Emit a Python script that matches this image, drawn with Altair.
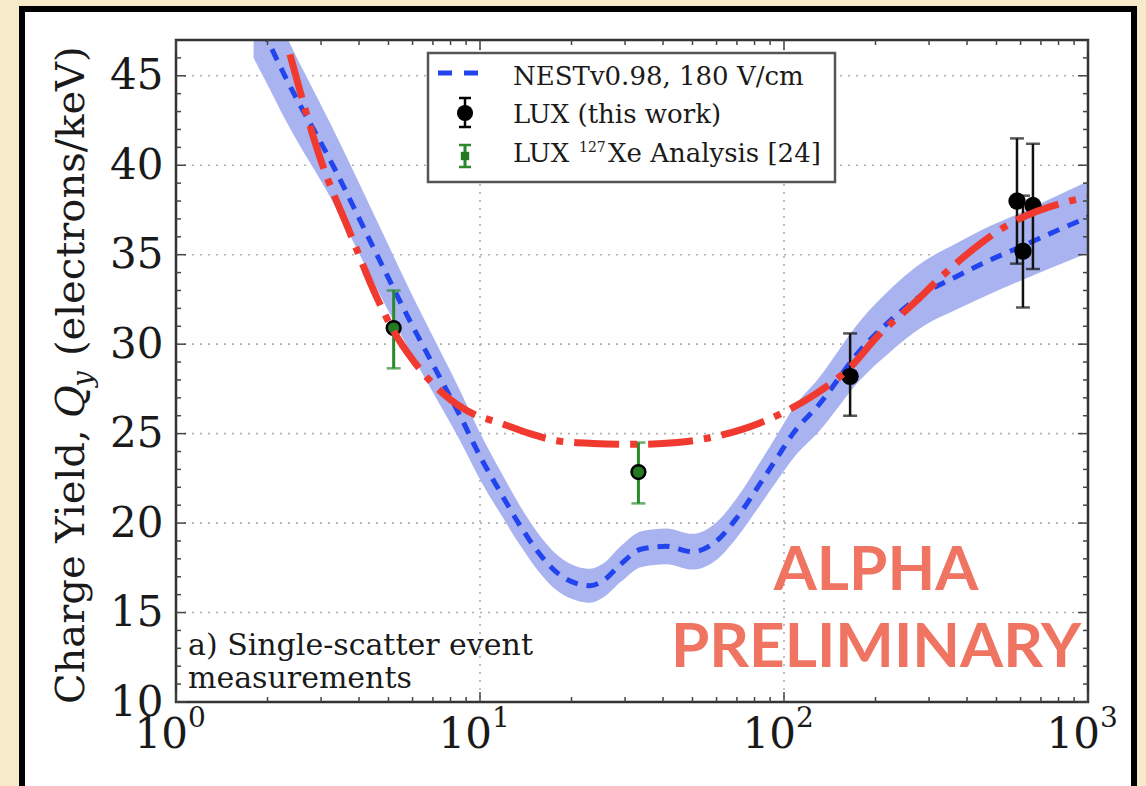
import altair as alt
import pandas as pd

# ---------------- data ----------------
# NEST v0.98 model curve (energy keV, charge yield) and its band half-width
nest_e = [1.8, 2.0, 2.28, 3.28, 4.58, 5.88, 7.11, 8.6, 10.1, 11.6, 13.5, 15.5, 18, 21,
          23, 25.5, 29, 34, 41, 50, 60, 70, 83.4, 97, 107, 130, 178, 223, 287,
          371, 476, 611, 791, 1000]
nest_q = [48.6, 47, 45, 40, 35, 31.3, 28.65, 26.0, 23.6, 21.8, 19.9, 18.4, 17.2, 16.6,
          16.5, 16.8, 17.7, 18.55, 18.7, 18.4, 19.0, 20.3, 22.2, 23.9, 25.0, 26.6, 29.65, 31.3, 32.8,
          33.8, 34.7, 35.5, 36.35, 37.1]
nest_err = [2.6, 2.5, 2.4, 2.05, 1.9, 1.7, 1.55, 1.4, 1.3, 1.2, 1.1, 1.05, 1.0, 0.95,
            0.95, 0.95, 1.0, 1.0, 1.0, 1.0, 1.05, 1.1, 1.2, 1.3, 1.4, 1.5, 1.65, 1.75, 1.8,
            1.85, 1.9, 1.9, 1.95, 2.0]

# red dash-dot fit curve
fit_e = [2.37, 2.98, 3.74, 4.58, 5.17, 6.02, 7.55, 9.5, 11.6, 14.6, 17.9, 23.5, 31.9, 44.5, 61.6,
         83.4, 100, 128, 165, 202, 274, 326, 441, 525, 827, 993]
fit_q = [46.2, 40.4, 36.2, 32.6, 30.8, 29.1, 27.25, 26.1, 25.6, 25.0, 24.6, 24.45, 24.4, 24.5, 24.9,
         25.6, 26.2, 27.25, 28.7, 30.4, 32.45, 33.7, 35.6, 36.5, 37.9, 38.2]

# LUX (this work) points
lux_e = [165, 584, 611, 659]
lux_q = [28.2, 38.0, 35.2, 37.75]
lux_lo = [26.0, 34.5, 32.05, 34.2]
lux_hi = [30.6, 41.5, 38.3, 41.2]

# LUX 127Xe analysis points
xe_e = [5.2, 33.2]
xe_q = [30.9, 22.85]
xe_lo = [28.65, 21.1]
xe_hi = [33.0, 24.5]

# axes
y_major = [10, 15, 20, 25, 30, 35, 40, 45]
y_minor = [v for v in range(11, 47) if v % 5 != 0]
x_major = [1, 10, 100, 1000]
x_minor = [m * d for d in (1, 10, 100) for m in range(2, 10)]
x_exp = ["0", "1", "2", "3"]
y_grid = [15, 20, 25, 30, 35, 40, 45]
x_grid = [10, 100]

# ---------------- layout ----------------
W, H = 912, 662
X_SCALE = alt.Scale(type="log", domain=[1, 1000])
Y_SCALE = alt.Scale(domain=[10, 47])
SERIF = "DejaVu Serif"
TXT = "#1a1a1a"
Y_AXIS = alt.Axis(values=y_major, grid=False, ticks=False, domain=False,
                  labelFont=SERIF, labelFontSize=42, labelColor=TXT,
                  labelPadding=13, labelOverlap=False, title=None, zindex=1)

def X(f):
    return alt.X(f, scale=X_SCALE, axis=None)

def Y(f):
    return alt.Y(f, scale=Y_SCALE, axis=Y_AXIS)

nest_df = pd.DataFrame({"e": nest_e, "q": nest_q,
                        "lo": [q - d for q, d in zip(nest_q, nest_err)],
                        "hi": [q + d for q, d in zip(nest_q, nest_err)]})
fit_df = pd.DataFrame({"e": fit_e, "q": fit_q})
lux_df = pd.DataFrame({"e": lux_e, "q": lux_q, "lo": lux_lo, "hi": lux_hi})
xe_df = pd.DataFrame({"e": xe_e, "q": xe_q, "lo": xe_lo, "hi": xe_hi})
one = pd.DataFrame({"a": [0]})

# white slide panel with black border
panel = alt.Chart(one).mark_rect(fill="white", stroke="black", strokeWidth=6).encode(
    x=alt.value(-154), x2=alt.value(958), y=alt.value(-31), y2=alt.value(780))

# grid
grid_style = dict(color="#b0b0b0", strokeDash=[2, 6], strokeWidth=1.6)
ygrid = alt.Chart(pd.DataFrame({"v": y_grid})).mark_rule(**grid_style).encode(
    y=Y("v:Q"), x=alt.value(0), x2=alt.value(W))
xgrid = alt.Chart(pd.DataFrame({"v": x_grid})).mark_rule(**grid_style).encode(
    x=X("v:Q"), y=alt.value(0), y2=alt.value(H))

band = alt.Chart(nest_df).mark_area(color="#a9b3ef", opacity=1, clip=True,
                                    interpolate="monotone").encode(
    x=X("e:Q"), y=Y("lo:Q"), y2="hi:Q")

nest_line = alt.Chart(nest_df).mark_line(color="#2244ee", strokeWidth=5, strokeDash=[12, 9],
                                         clip=True, interpolate="monotone").encode(
    x=X("e:Q"), y=Y("q:Q"))

fit_line = alt.Chart(fit_df).mark_line(color="#f03a30", strokeWidth=7, strokeDash=[45, 11, 7, 11],
                                       clip=True, interpolate="monotone").encode(
    x=X("e:Q"), y=Y("q:Q"))

def errbars(df, color, width):
    bar = alt.Chart(df).mark_rule(color=color, strokeWidth=width).encode(
        x=X("e:Q"), y=Y("lo:Q"), y2="hi:Q")
    cap_lo = alt.Chart(df).mark_tick(color=color, orient="horizontal", size=14, thickness=2.5).encode(
        x=X("e:Q"), y=Y("lo:Q"))
    cap_hi = alt.Chart(df).mark_tick(color=color, orient="horizontal", size=14, thickness=2.5).encode(
        x=X("e:Q"), y=Y("hi:Q"))
    return bar + cap_lo + cap_hi

lux_err = errbars(lux_df, "#111111", 2.5)
xe_err = errbars(xe_df, "#2a8a2a", 3)
lux_pts = alt.Chart(lux_df).mark_point(filled=True, color="black", size=300, opacity=1).encode(
    x=X("e:Q"), y=Y("q:Q"))
xe_pts = alt.Chart(xe_df).mark_point(filled=True, fill="#237a23", stroke="black", strokeWidth=2.5,
                                     size=190, opacity=1, shape="circle").encode(
    x=X("e:Q"), y=Y("q:Q"))

# frame and inward ticks
frame = alt.Chart(one).mark_rect(fillOpacity=0, stroke="#333333", strokeWidth=2.5).encode(
    x=alt.value(0), x2=alt.value(W), y=alt.value(0), y2=alt.value(H))

tick_style = dict(color="#444444", strokeWidth=1.5)
def yticks(vals, ln):
    d = pd.DataFrame({"v": vals})
    l = alt.Chart(d).mark_rule(**tick_style).encode(
        y=Y("v:Q"), x=alt.value(0), x2=alt.value(ln))
    r = alt.Chart(d).mark_rule(**tick_style).encode(
        y=Y("v:Q"), x=alt.value(W - ln), x2=alt.value(W))
    return l + r
def xticks(vals, ln):
    d = pd.DataFrame({"v": vals})
    b = alt.Chart(d).mark_rule(**tick_style).encode(
        x=X("v:Q"), y=alt.value(H - ln), y2=alt.value(H))
    t = alt.Chart(d).mark_rule(**tick_style).encode(
        x=X("v:Q"), y=alt.value(0), y2=alt.value(ln))
    return b + t
ticks = yticks(y_major, 10) + yticks(y_minor, 5) + xticks(x_major, 10) + xticks(x_minor, 5)

# x tick labels 10^n
xl_df = pd.DataFrame({"v": x_major, "base": ["10"] * 4, "exp": x_exp})
xl_base = alt.Chart(xl_df).mark_text(align="right", baseline="alphabetic", dx=12, font=SERIF,
                                     fontSize=42, color=TXT).encode(
    x=X("v:Q"), y=alt.value(708), text="base:N")
xl_exp = alt.Chart(xl_df).mark_text(align="left", baseline="alphabetic", dx=12, font=SERIF,
                                    fontSize=28, color=TXT).encode(
    x=X("v:Q"), y=alt.value(687), text="exp:N")

def txt(s, x, y, size, **kw):
    params = dict(align="left", baseline="alphabetic", font=SERIF, fontSize=size, color=TXT)
    params.update(kw)
    return alt.Chart(one).mark_text(**params).encode(
        x=alt.value(x), y=alt.value(y), text=alt.value(s))

# y-axis title (rotated pieces)
ytitle = (txt("Charge Yield,\u00a0", -92, 664, 40, angle=270)
          + txt("Q", -92, 378, 40, angle=270, fontStyle="italic")
          + txt("y", -84, 347, 28, angle=270, fontStyle="italic")
          + txt("(electrons/keV)", -92, 316, 40, angle=270))

# legend
leg_box = alt.Chart(one).mark_rect(fill="white", stroke="#555555", strokeWidth=2.5).encode(
    x=alt.value(252), x2=alt.value(659), y=alt.value(13), y2=alt.value(142))
leg_dash = alt.Chart(one).mark_rule(color="#2244ee", strokeWidth=5, strokeDash=[14, 12]).encode(
    x=alt.value(262), x2=alt.value(304), y=alt.value(33))
leg_bk_bar = alt.Chart(one).mark_rule(color="black", strokeWidth=2.5).encode(
    x=alt.value(289), y=alt.value(58), y2=alt.value(87))
leg_bk_c1 = alt.Chart(one).mark_rule(color="black", strokeWidth=2.5).encode(
    x=alt.value(283), x2=alt.value(295), y=alt.value(58))
leg_bk_c2 = alt.Chart(one).mark_rule(color="black", strokeWidth=2.5).encode(
    x=alt.value(283), x2=alt.value(295), y=alt.value(87))
leg_bk_pt = alt.Chart(one).mark_point(filled=True, color="black", size=260, opacity=1).encode(
    x=alt.value(289), y=alt.value(73))
leg_gr_bar = alt.Chart(one).mark_rule(color="#2a8a2a", strokeWidth=3).encode(
    x=alt.value(289), y=alt.value(105), y2=alt.value(127))
leg_gr_c1 = alt.Chart(one).mark_rule(color="#2a8a2a", strokeWidth=2.5).encode(
    x=alt.value(283), x2=alt.value(295), y=alt.value(105))
leg_gr_c2 = alt.Chart(one).mark_rule(color="#2a8a2a", strokeWidth=2.5).encode(
    x=alt.value(283), x2=alt.value(295), y=alt.value(127))
leg_gr_pt = alt.Chart(one).mark_point(filled=True, color="#237a23", size=70, shape="square",
                                      opacity=1).encode(x=alt.value(289), y=alt.value(116))
legend = (leg_box + leg_dash + leg_bk_bar + leg_bk_c1 + leg_bk_c2 + leg_bk_pt
          + leg_gr_bar + leg_gr_c1 + leg_gr_c2 + leg_gr_pt
          + txt("NESTv0.98, 180 V/cm", 337, 45, 26)
          + txt("LUX (this work)", 337, 83, 26)
          + txt("LUX", 337, 122, 26)
          + txt("127", 403, 112, 14)
          + txt("Xe Analysis [24]", 432, 122, 26))

annot = txt("a) Single-scatter event", 12, 615, 30) + txt("measurements", 12, 648, 30)
prelim = (txt("ALPHA", 700, 550, 62, align="center", font="Lato", fontWeight="bold", color="#ef7462")
          + txt("PRELIMINARY", 700, 627, 62, align="center", font="Lato", fontWeight="bold",
                color="#ef7462"))

chart = alt.layer(
    panel, ygrid, xgrid, band, nest_line, xe_err, lux_err, xe_pts, lux_pts, fit_line,
    frame, ticks, xl_base, xl_exp, ytitle, legend, annot, prelim
).properties(
    width=W, height=H,
    autosize=alt.AutoSizeParams(type="none"),
    padding={"left": 176, "top": 40, "right": 58, "bottom": 84},
).configure(background="#f6eacb").configure_view(strokeWidth=0)

chart.save("out.html", embed_options={"renderer": "svg", "actions": False})
